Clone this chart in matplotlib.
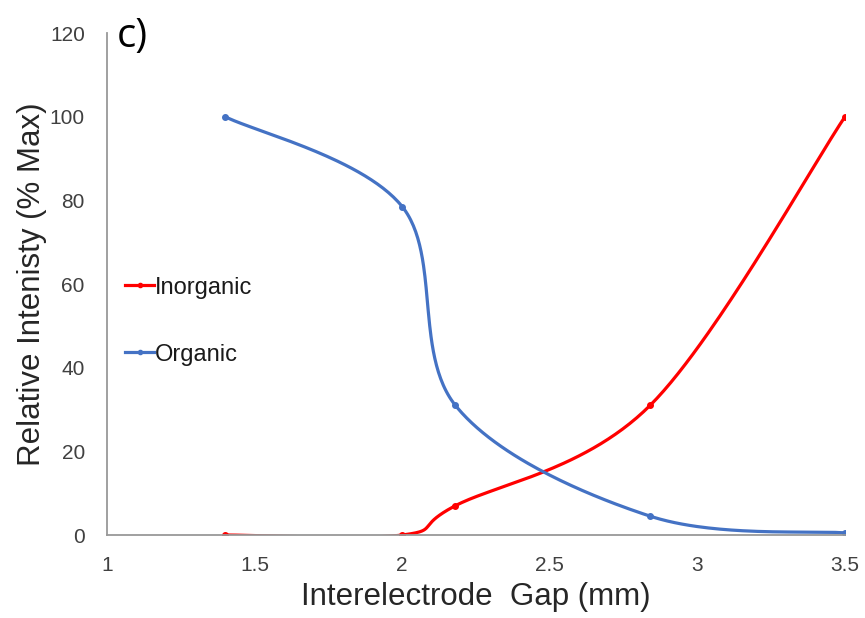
import matplotlib.pyplot as plt
import numpy as np

# gap widths and normalised intensities
gap = [1.4, 2.0, 2.18, 2.84, 3.5]
inorganic = [0, 0, 7, 31, 100]
organic = [100, 78.5, 31, 4.5, 0.5]


def smooth(xs, ys, n=60):
    # Catmull-Rom style bezier through every point (spreadsheet "smoothed line")
    p = np.column_stack([xs, ys]).astype(float)
    p = np.vstack([p[0], p, p[-1]])
    out = []
    for i in range(1, len(p) - 2):
        p0, p1, p2, p3 = p[i - 1], p[i], p[i + 1], p[i + 2]
        c1 = p1 + (p2 - p0) / 6
        c2 = p2 - (p3 - p1) / 6
        t = np.linspace(0, 1, n)[:, None]
        seg = ((1 - t) ** 3) * p1 + 3 * ((1 - t) ** 2) * t * c1 + 3 * (1 - t) * t ** 2 * c2 + t ** 3 * p2
        out.append(seg)
    out = np.vstack(out)
    return out[:, 0], out[:, 1]


plt.rcParams['font.family'] = ['Liberation Sans', 'DejaVu Sans']

fig = plt.figure(figsize=(8.65, 6.18), dpi=100)
ax = fig.add_axes([0.1237, 0.1343, 0.8532, 0.8123])

for ys, col, name in [(inorganic, '#FF0000', 'Inorganic'), (organic, '#4472C4', 'Organic')]:
    sx, sy = smooth(gap, ys)
    ax.plot(sx, sy, color=col, lw=2.3, solid_capstyle='round')
    ax.plot(gap, ys, 'o', color=col, ms=4)
    ax.plot([], [], '-', marker='o', color=col, lw=2.3, ms=3, label=name)

ax.set_xlim(1, 3.5)
ax.set_ylim(0, 120)
ax.set_xticks(np.arange(1, 3.51, 0.5))
ax.set_xticklabels(['1', '1.5', '2', '2.5', '3', '3.5'])
ax.set_yticks(np.arange(0, 121, 20))
ax.tick_params(length=0, labelsize=15, colors='#404040')
ax.tick_params(axis='x', pad=15)
ax.tick_params(axis='y', pad=16)

for s in ['top', 'right']:
    ax.spines[s].set_visible(False)
for s in ['left', 'bottom']:
    ax.spines[s].set_color('#999999')
    ax.spines[s].set_linewidth(1.3)

ax.set_xlabel('Interelectrode  Gap (mm)', fontsize=22.5, color='#262626', labelpad=5)
ax.set_ylabel('Relative Intenisty (% Max)', fontsize=22.5, color='#262626', labelpad=2)
ax.set_clip_on(False)

fig.text(0.135, 0.94, 'c)', fontsize=29, family=['Open Sans', 'DejaVu Sans'], va='center')

leg = ax.legend(loc='center left', bbox_to_anchor=(0.025, 0.426), frameon=False, fontsize=17,
                handlelength=1.2, handletextpad=0.05, labelspacing=1.9, borderaxespad=0,
                borderpad=0)
for t in leg.get_texts():
    t.set_color('#1a1a1a')

fig.savefig('out.png', dpi=100)
